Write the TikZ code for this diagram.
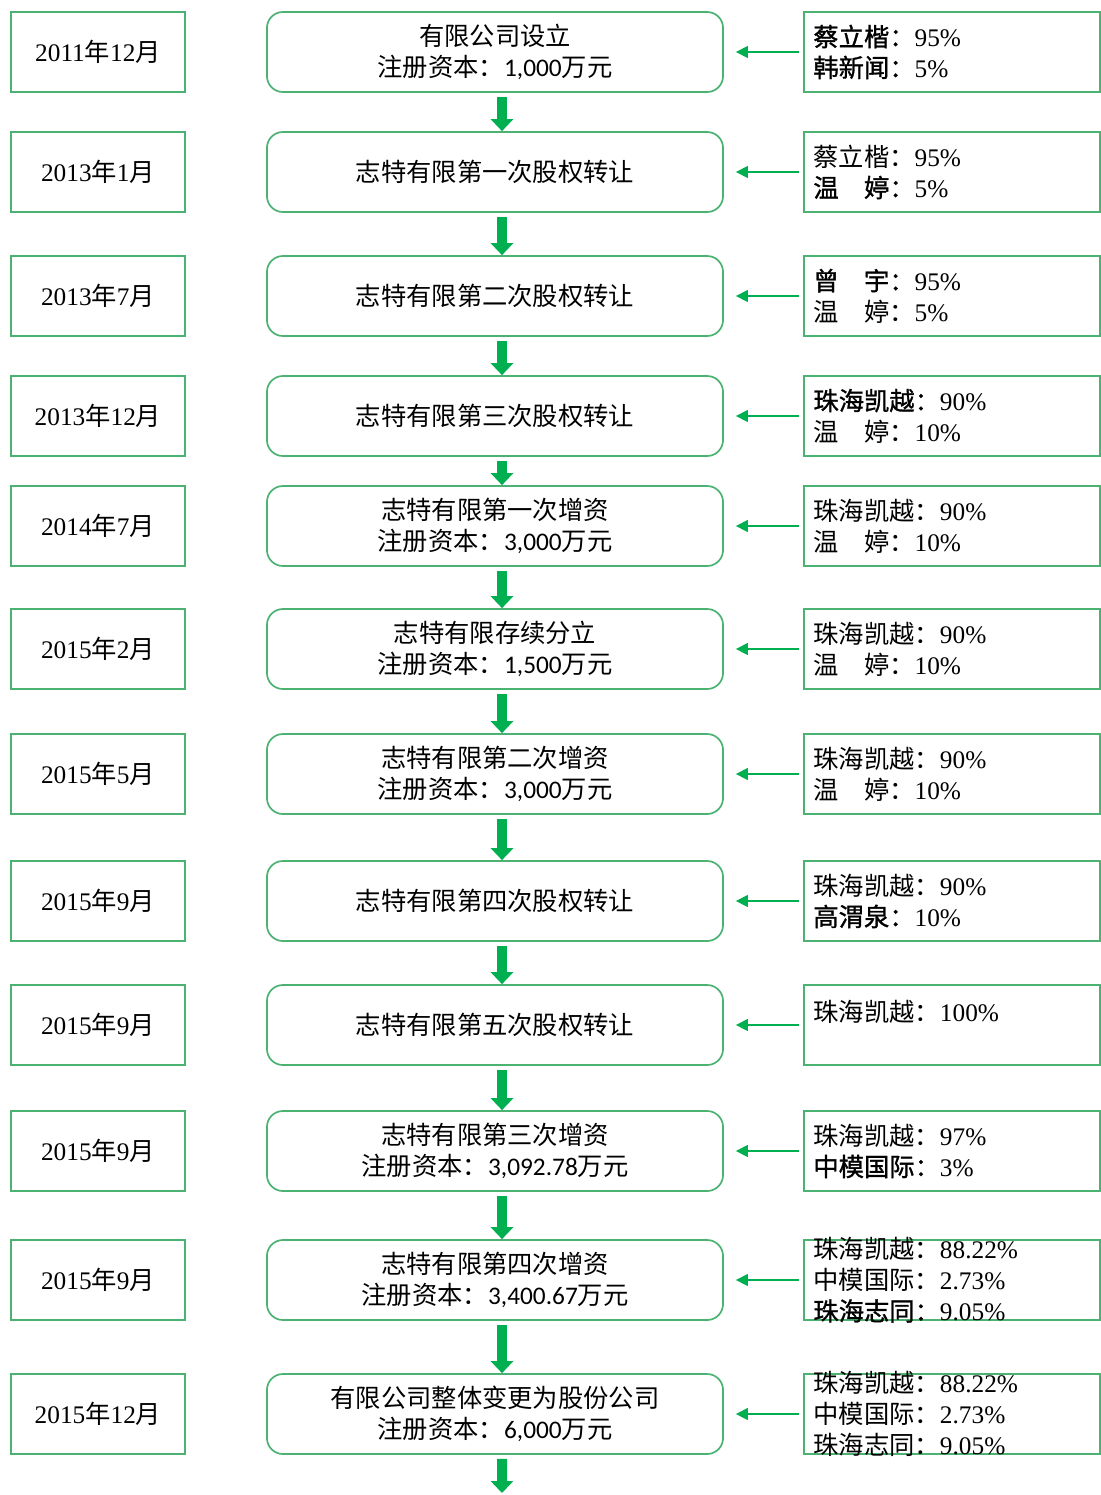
\documentclass[tikz,border=0pt]{standalone}
\usepackage{fontspec}
\setmainfont{Liberation Serif}
\newfontfamily\cjk{Noto Sans CJK SC}
\newfontfamily\cjkb[FakeBold=1.2]{Noto Sans CJK SC}
\newfontfamily\carlito{Carlito}
\usetikzlibrary{arrows.meta}

\definecolor{BoxLine}{HTML}{4BB272}
\definecolor{Flow}{HTML}{00B050}

\newcommand{\zh}[1]{{\cjk #1}}
\newcommand{\zhb}[1]{{\cjkb #1}}
\newcommand{\amt}[1]{{\carlito #1}}
\newcommand{\ym}[2]{#1\zh{年}#2\zh{月}}
\newcommand{\regcap}[1]{\zh{注册资本：}\amt{#1}\zh{万元}}

\begin{document}
\begin{tikzpicture}[x=0.025cm, y=-0.025cm,
  font=\fontsize{18pt}{22pt}\selectfont,
  datebox/.style={draw=BoxLine, line width=1.2pt, minimum width=4.35cm, minimum height=2cm, inner sep=0pt},
  eventbox/.style={draw=BoxLine, line width=1.2pt, rounded corners=0.4cm, minimum width=11.4cm, minimum height=2cm, align=center, inner sep=0pt},
  holderbox/.style={draw=BoxLine, line width=1.2pt, minimum width=7.4cm, minimum height=2cm, inner sep=0pt},
  share/.style={anchor=west, align=left, inner sep=0pt, xshift=0.25cm},
  flow/.style={draw=Flow, line width=0.25cm, -{Triangle[length=0.3cm, width=0.55cm]}, shorten <=0.1cm},
  feed/.style={draw=Flow, line width=1pt, -{Triangle[length=0.3cm, width=0.3cm]}, shorten <=0.1cm, shorten >=0.3cm}]

 \useasboundingbox (0,0) rectangle (1100,1495);

 %%%%%%%%%% Dates %%%%%%%%%%
 \node[datebox] (d1) at (98,52) {\ym{2011}{12}};
 \node[datebox] (d2) at (98,172) {\ym{2013}{1}};
 \node[datebox] (d3) at (98,296) {\ym{2013}{7}};
 \node[datebox] (d4) at (98,416) {\ym{2013}{12}};
 \node[datebox] (d5) at (98,526) {\ym{2014}{7}};
 \node[datebox] (d6) at (98,649) {\ym{2015}{2}};
 \node[datebox] (d7) at (98,774) {\ym{2015}{5}};
 \node[datebox] (d8) at (98,901) {\ym{2015}{9}};
 \node[datebox] (d9) at (98,1025) {\ym{2015}{9}};
 \node[datebox] (d10) at (98,1151) {\ym{2015}{9}};
 \node[datebox] (d11) at (98,1280) {\ym{2015}{9}};
 \node[datebox] (d12) at (98,1414) {\ym{2015}{12}};

 %%%%%%%%%% Events %%%%%%%%%%
 \node[eventbox] (e1) at (495,52) {\zh{有限公司设立}\\\regcap{1,000}};
 \node[eventbox] (e2) at (495,172) {\zh{志特有限第一次股权转让}};
 \node[eventbox] (e3) at (495,296) {\zh{志特有限第二次股权转让}};
 \node[eventbox] (e4) at (495,416) {\zh{志特有限第三次股权转让}};
 \node[eventbox] (e5) at (495,526) {\zh{志特有限第一次增资}\\\regcap{3,000}};
 \node[eventbox] (e6) at (495,649) {\zh{志特有限存续分立}\\\regcap{1,500}};
 \node[eventbox] (e7) at (495,774) {\zh{志特有限第二次增资}\\\regcap{3,000}};
 \node[eventbox] (e8) at (495,901) {\zh{志特有限第四次股权转让}};
 \node[eventbox] (e9) at (495,1025) {\zh{志特有限第五次股权转让}};
 \node[eventbox] (e10) at (495,1151) {\zh{志特有限第三次增资}\\\regcap{3,092.78}};
 \node[eventbox] (e11) at (495,1280) {\zh{志特有限第四次增资}\\\regcap{3,400.67}};
 \node[eventbox] (e12) at (495,1414) {\zh{有限公司整体变更为股份公司}\\\regcap{6,000}};

 %%%%%%%%%% Shareholders %%%%%%%%%%
 \node[holderbox] (h1) at (952,52) {};
 \node[holderbox] (h2) at (952,172) {};
 \node[holderbox] (h3) at (952,296) {};
 \node[holderbox] (h4) at (952,416) {};
 \node[holderbox] (h5) at (952,526) {};
 \node[holderbox] (h6) at (952,649) {};
 \node[holderbox] (h7) at (952,774) {};
 \node[holderbox] (h8) at (952,901) {};
 \node[holderbox] (h9) at (952,1025) {};
 \node[holderbox] (h10) at (952,1151) {};
 \node[holderbox] (h11) at (952,1280) {};
 \node[holderbox] (h12) at (952,1414) {};

 \node[share] (s1) at (h1.west) {\zhb{蔡立楷：}95\%\\\zhb{韩新闻：}5\%};
 \node[share] (s2) at (h2.west) {\zh{蔡立楷：}95\%\\\zhb{温　婷：}5\%};
 \node[share] (s3) at (h3.west) {\zhb{曾　宇：}95\%\\\zh{温　婷：}5\%};
 \node[share] (s4) at (h4.west) {\zhb{珠海凯越：}90\%\\\zh{温　婷：}10\%};
 \node[share] (s5) at (h5.west) {\zh{珠海凯越：}90\%\\\zh{温　婷：}10\%};
 \node[share] (s6) at (h6.west) {\zh{珠海凯越：}90\%\\\zh{温　婷：}10\%};
 \node[share] (s7) at (h7.west) {\zh{珠海凯越：}90\%\\\zh{温　婷：}10\%};
 \node[share] (s8) at (h8.west) {\zh{珠海凯越：}90\%\\\zhb{高渭泉：}10\%};
 \node[share, yshift=0.33cm] (s9) at (h9.west) {\zh{珠海凯越：}100\%};
 \node[share] (s10) at (h10.west) {\zh{珠海凯越：}97\%\\\zhb{中模国际：}3\%};
 \node[share] (s11) at (h11.west) {\zh{珠海凯越：}88.22\%\\\zh{中模国际：}2.73\%\\\zhb{珠海志同：}9.05\%};
 \node[share] (s12) at (h12.west) {\zh{珠海凯越：}88.22\%\\\zh{中模国际：}2.73\%\\\zh{珠海志同：}9.05\%};

 %%%%%%%%%% Side arrows %%%%%%%%%%
 \draw[feed] (h1) -- (e1);
 \draw[feed] (h2) -- (e2);
 \draw[feed] (h3) -- (e3);
 \draw[feed] (h4) -- (e4);
 \draw[feed] (h5) -- (e5);
 \draw[feed] (h6) -- (e6);
 \draw[feed] (h7) -- (e7);
 \draw[feed] (h8) -- (e8);
 \draw[feed] (h9) -- (e9);
 \draw[feed] (h10) -- (e10);
 \draw[feed] (h11) -- (e11);
 \draw[feed] (h12) -- (e12);

 %%%%%%%%%% Down arrows %%%%%%%%%%
 \draw[flow] ([xshift=0.175cm]e1.south) -- ([xshift=0.175cm]e2.north);
 \draw[flow] ([xshift=0.175cm]e2.south) -- ([xshift=0.175cm]e3.north);
 \draw[flow] ([xshift=0.175cm]e3.south) -- ([xshift=0.175cm]e4.north);
 \draw[flow] ([xshift=0.175cm]e4.south) -- ([xshift=0.175cm]e5.north);
 \draw[flow] ([xshift=0.175cm]e5.south) -- ([xshift=0.175cm]e6.north);
 \draw[flow] ([xshift=0.175cm]e6.south) -- ([xshift=0.175cm]e7.north);
 \draw[flow] ([xshift=0.175cm]e7.south) -- ([xshift=0.175cm]e8.north);
 \draw[flow] ([xshift=0.175cm]e8.south) -- ([xshift=0.175cm]e9.north);
 \draw[flow] ([xshift=0.175cm]e9.south) -- ([xshift=0.175cm]e10.north);
 \draw[flow] ([xshift=0.175cm]e10.south) -- ([xshift=0.175cm]e11.north);
 \draw[flow] ([xshift=0.175cm]e11.south) -- ([xshift=0.175cm]e12.north);

 \coordinate (end) at (502,1493);
 \draw[flow] ([xshift=0.175cm]e12.south) -- (end);

\end{tikzpicture}
\end{document}
